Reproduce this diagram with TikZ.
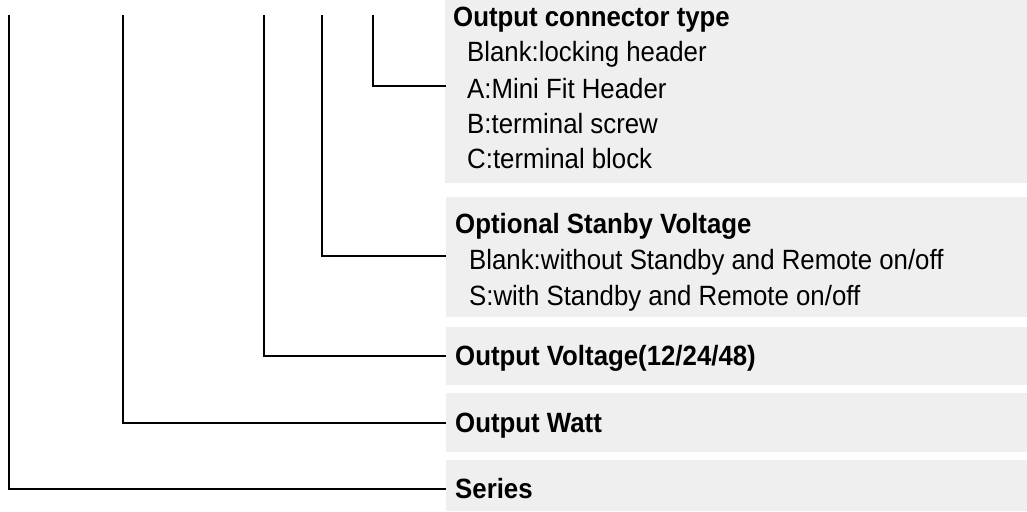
\documentclass[tikz,border=0pt]{standalone}
\usepackage{fontspec}
\usepackage{graphicx}
\setmainfont{Liberation Sans}
\definecolor{boxgray}{HTML}{EFEFEF}
\newcommand\vtxt[1]{\scalebox{1}[1.08]{#1}}
\begin{document}
\begin{tikzpicture}[x=1pt,y=-1pt,
  panel/.style={fill=boxgray,draw=none},
  conn/.style={draw=black,line width=2pt},
  ttl/.style={anchor=base west,inner sep=0pt,font=\fontsize{25.8}{30}\selectfont\bfseries},
  opt/.style={anchor=base west,inner sep=0pt,font=\fontsize{25.8}{30}\selectfont}]
\useasboundingbox (0,0) rectangle (1027,511);
\fill[white] (0,0) rectangle (1027,511);
% panels
\path[panel] (445,0) rectangle (1027,183);
\path[panel] (446,197) rectangle (1027,317);
\path[panel] (446,327) rectangle (1027,385);
\path[panel] (446,393) rectangle (1027,452);
\path[panel] (446,460) rectangle (1027,511);
% texts
\node[ttl] (t1) at (453,27) {\vtxt{Output connector type}};
\node[opt] (t1a) at (467,62) {\vtxt{Blank:locking header}};
\node[opt] (t1b) at (467,98) {\vtxt{A:Mini Fit Header}};
\node[opt] (t1c) at (467,133) {\vtxt{B:terminal screw}};
\node[opt] (t1d) at (467,168) {\vtxt{C:terminal block}};
\node[ttl] (t2) at (455,233) {\vtxt{Optional Stanby Voltage}};
\node[opt] (t2a) at (469,269) {\vtxt{Blank:without Standby and Remote on/off}};
\node[opt] (t2b) at (469,305) {\vtxt{S:with Standby and Remote on/off}};
\node[ttl] (t3) at (455,365) {\vtxt{Output Voltage(12/24/48)}};
\node[ttl] (t4) at (455,432) {\vtxt{Output Watt}};
\node[ttl] (t5) at (455,498) {\vtxt{Series}};
% connector ends
\coordinate (s1) at (373,15); \coordinate (e1) at (446,86);
\coordinate (s2) at (322,15); \coordinate (e2) at (446,256);
\coordinate (s3) at (264,15); \coordinate (e3) at (446,356);
\coordinate (s4) at (123,15); \coordinate (e4) at (446,423);
\coordinate (s5) at (9,15);   \coordinate (e5) at (446,489);
\draw[conn] (s1) |- (e1);
\draw[conn] (s2) |- (e2);
\draw[conn] (s3) |- (e3);
\draw[conn] (s4) |- (e4);
\draw[conn] (s5) |- (e5);
\end{tikzpicture}
\end{document}
